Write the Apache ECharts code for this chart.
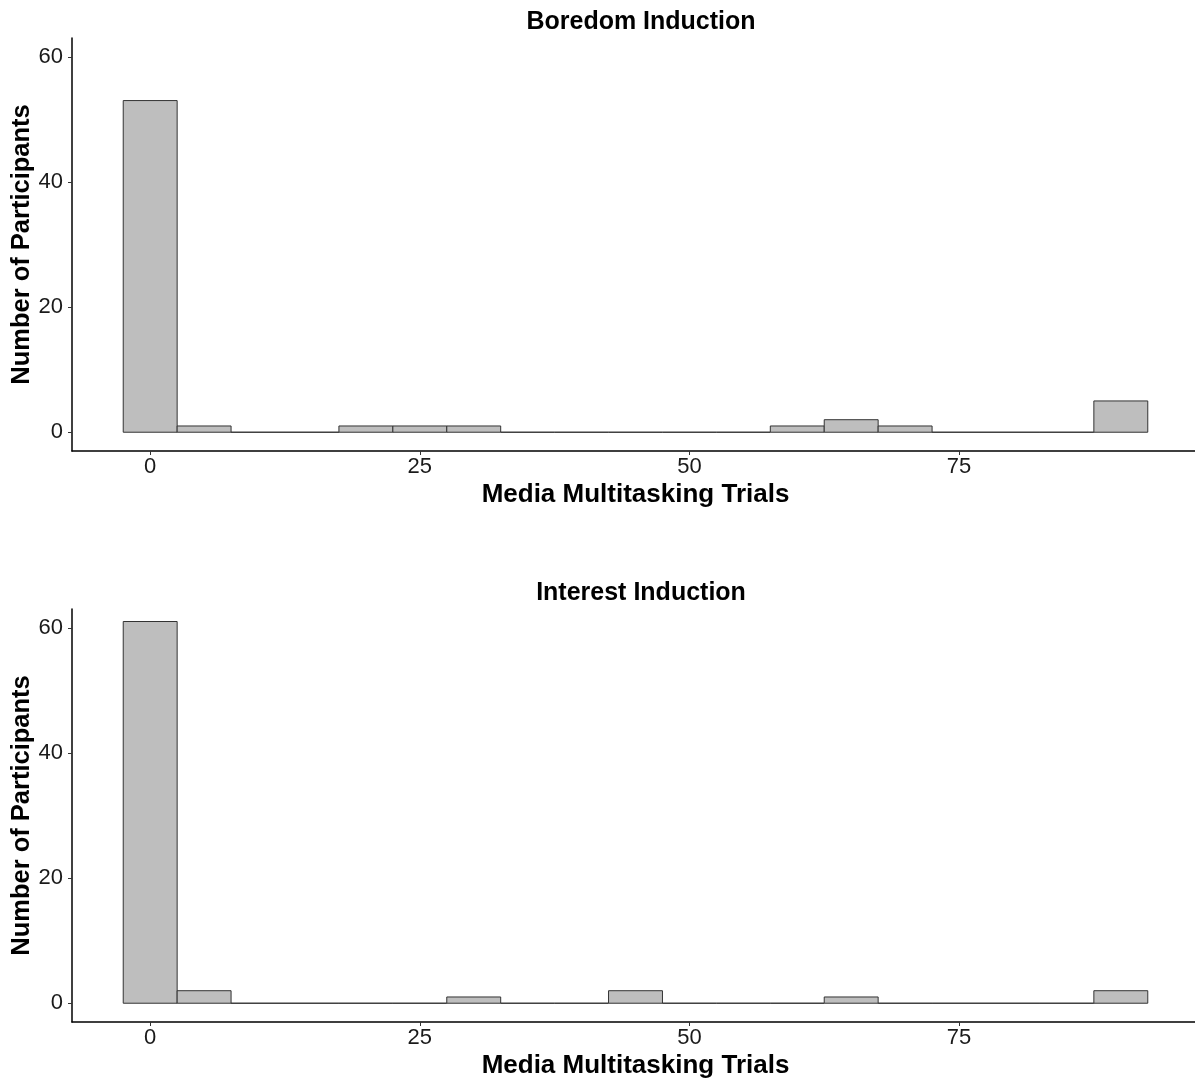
<!DOCTYPE html>
<html><head><meta charset="utf-8">
<script src="https://cdn.jsdelivr.net/npm/echarts@6/dist/echarts.min.js"></script>
<style>html,body{margin:0;padding:0;background:#fff}#c{width:1195px;height:1080px}</style>
</head><body><div id="c"></div>
<script>
const binCenters = [0,5,10,15,20,25,30,35,40,45,50,55,60,65,70,75,80,85,90];
const boredomCounts = [53,1,0,0,1,1,1,0,0,0,0,0,1,2,1,0,0,0,5];
const interestCounts = [61,2,0,0,0,0,1,0,0,2,0,0,0,1,0,0,0,0,2];
const xTicks = [0,25,50,75];
const yTicks = [0,20,40,60];
const binWidth = 5;
const panelTitles = ['Boredom Induction','Interest Induction'];
const xTitle = 'Media Multitasking Trials';
const yTitle = 'Number of Participants';

const FONT = 'Liberation Sans, Arial, sans-serif';
const chart = echarts.init(document.getElementById('c'));

function renderItem(params, api){
  const c = api.value(0), n = api.value(1);
  const p0 = api.coord([c - binWidth/2, 0]);
  const p1 = api.coord([c + binWidth/2, n]);
  return {
    type:'rect',
    shape:{x:p0[0], y:p1[1], width:p1[0]-p0[0], height:p0[1]-p1[1]},
    style:{fill:'#bebebe', stroke:'#333', lineWidth:1}
  };
}

const grids = [
  {left:72, right:-4, top:38, height:413, containLabel:false, outerBoundsMode:'none'},
  {left:72, right:-4, top:609, height:413, containLabel:false, outerBoundsMode:'none'}
];
function xAxis(i){
  return {gridIndex:i, type:'value', min:-7.25, max:97.25,
    axisLine:{show:true, onZero:false, lineStyle:{color:'#000', width:1.5}},
    axisTick:{show:true, length:4, lineStyle:{color:'#333'}, customValues:xTicks},
    axisLabel:{color:'#1a1a1a', fontSize:22, fontFamily:FONT, margin:5, customValues:xTicks},
    splitLine:{show:false},
    name:xTitle, nameLocation:'middle', nameGap:31, nameMoveOverlap:false,
    nameTextStyle:{fontSize:26, fontWeight:'bold', color:'#000', fontFamily:FONT}
  };
}
function yAxis(i){
  return {gridIndex:i, type:'value', min:-3, max:63,
    axisLine:{show:true, onZero:false, lineStyle:{color:'#000', width:1.5}},
    axisTick:{show:true, length:4, lineStyle:{color:'#333'}, customValues:yTicks},
    axisLabel:{color:'#1a1a1a', fontSize:22, fontFamily:FONT, margin:9, customValues:yTicks},
    splitLine:{show:false},
    name:yTitle, nameLocation:'middle', nameGap:37, nameRotate:90, nameMoveOverlap:false,
    nameTextStyle:{fontSize:25.5, fontWeight:'bold', color:'#000', fontFamily:FONT}
  };
}
const option = {
  backgroundColor:'#fff',
  animation:false,
  title:[
    {text:panelTitles[0], left:636, top:5, textAlign:'center', textStyle:{fontSize:25, fontWeight:'bold', color:'#000', fontFamily:FONT}},
    {text:panelTitles[1], left:636, top:576, textAlign:'center', textStyle:{fontSize:25, fontWeight:'bold', color:'#000', fontFamily:FONT}}
  ],
  grid:grids,
  xAxis:[xAxis(0), xAxis(1)],
  yAxis:[yAxis(0), yAxis(1)],
  series:[
    {type:'custom', xAxisIndex:0, yAxisIndex:0, renderItem, data:binCenters.map((c,i)=>[c, boredomCounts[i]])},
    {type:'custom', xAxisIndex:1, yAxisIndex:1, renderItem, data:binCenters.map((c,i)=>[c, interestCounts[i]])}
  ]
};
chart.setOption(option);
</script></body></html>
